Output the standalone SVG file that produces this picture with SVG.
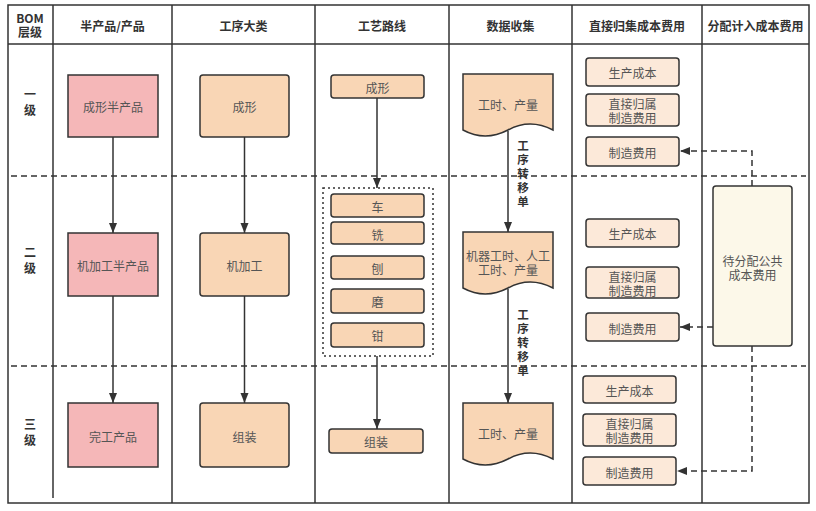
<svg xmlns="http://www.w3.org/2000/svg" width="816" height="511" viewBox="0 0 816 511">
<style>
text{font-family:"Noto Sans CJK SC","Noto Sans",sans-serif;text-anchor:middle;dominant-baseline:central}
.h{font-size:12px;font-weight:bold;fill:#333}
.t{font-size:12px;fill:#555}
.v{font-size:11.5px;font-weight:bold;fill:#333;writing-mode:vertical-rl;letter-spacing:2.5px}
.grid{stroke:#333;stroke-width:1.5;fill:none}
.dash{stroke:#333;stroke-width:1.5;stroke-dasharray:6 4;fill:none}
.prod{fill:#F5B7B8;stroke:#333;stroke-width:1.5}
.proc{fill:#F9D6B5;stroke:#333;stroke-width:1.5}
.cost{fill:#FCE9D9;stroke:#333;stroke-width:1.5}
.pool{fill:#FCF8E9;stroke:#333;stroke-width:1.5}
.ln{stroke:#333;stroke-width:1.5;fill:none}
</style>
<defs>
<marker id="ah" markerWidth="10" markerHeight="10" refX="10" refY="5" orient="auto" markerUnits="userSpaceOnUse">
<path d="M0,1 L10,5 L0,9 z" fill="#333"/>
</marker>
</defs>
<rect width="816" height="511" fill="#fff"/>
<g id="grid">
<rect class="grid" x="8" y="5" width="801" height="498"/>
<line class="grid" x1="8" y1="44" x2="809" y2="44"/>
<line class="grid" x1="53" y1="5" x2="53" y2="498"/>
<line class="grid" x1="172" y1="5" x2="172" y2="503"/>
<line class="grid" x1="315" y1="5" x2="315" y2="503"/>
<line class="grid" x1="449" y1="5" x2="449" y2="503"/>
<line class="grid" x1="572" y1="5" x2="572" y2="503"/>
<line class="grid" x1="702" y1="5" x2="702" y2="503"/>
<line class="dash" x1="11" y1="176" x2="806" y2="176"/>
<line class="dash" x1="11" y1="366" x2="806" y2="366"/>
</g>
<g id="headers">
<text class="h" x="30" y="17">BOM<tspan x="30" dy="14">层级</tspan></text>
<text class="h" x="112.5" y="25">半产品/产品</text>
<text class="h" x="243.5" y="25">工序大类</text>
<text class="h" x="382" y="25">工艺路线</text>
<text class="h" x="510.5" y="25">数据收集</text>
<text class="h" x="637" y="25">直接归集成本费用</text>
<text class="h" x="755.5" y="25">分配计入成本费用</text>
<text class="h" x="30" y="93">一<tspan x="30" dy="16">级</tspan></text>
<text class="h" x="30" y="251">二<tspan x="30" dy="16">级</tspan></text>
<text class="h" x="30" y="423">三<tspan x="30" dy="16">级</tspan></text>
</g>
<g id="connectors">
<line class="ln" x1="113" y1="137" x2="113" y2="233" marker-end="url(#ah)"/>
<line class="ln" x1="113" y1="296" x2="113" y2="403" marker-end="url(#ah)"/>
<line class="ln" x1="244.5" y1="137" x2="244.5" y2="233" marker-end="url(#ah)"/>
<line class="ln" x1="244.5" y1="296" x2="244.5" y2="403" marker-end="url(#ah)"/>
<line class="ln" x1="377" y1="98" x2="377" y2="188" marker-end="url(#ah)"/>
<line class="ln" x1="377" y1="356" x2="377" y2="429" marker-end="url(#ah)"/>
<line class="ln" x1="508" y1="131" x2="508" y2="232" marker-end="url(#ah)"/>
<line class="ln" x1="508" y1="289" x2="508" y2="403" marker-end="url(#ah)"/>
<path class="dash" d="M752,186 V151 H680" marker-end="url(#ah)"/>
<path class="dash" d="M713,327 H680" marker-end="url(#ah)"/>
<path class="dash" d="M752,346 V471 H677" marker-end="url(#ah)"/>
<text class="v" x="523" y="175">工序转移单</text>
<text class="v" x="523" y="344">工序转移单</text>
</g>
<g id="n-prod1"><rect class="prod" x="68" y="75" width="90" height="62"/><text class="t" x="113" y="106">成形半产品</text></g>
<g id="n-prod2"><rect class="prod" x="68" y="233" width="90" height="63"/><text class="t" x="113" y="265">机加工半产品</text></g>
<g id="n-prod3"><rect class="prod" x="68" y="403" width="90" height="64"/><text class="t" x="113" y="436">完工产品</text></g>
<g id="n-cat1"><rect class="proc" x="200" y="75" width="89" height="62" rx="3"/><text class="t" x="244.5" y="106">成形</text></g>
<g id="n-cat2"><rect class="proc" x="200" y="233" width="89" height="63" rx="3"/><text class="t" x="244.5" y="265">机加工</text></g>
<g id="n-cat3"><rect class="proc" x="200" y="403" width="89" height="64" rx="3"/><text class="t" x="244.5" y="436">组装</text></g>
<g id="n-route1"><rect class="proc" x="331" y="75" width="93" height="23" rx="3"/><text class="t" x="377.5" y="87">成形</text></g>
<g id="n-routegroup"><rect x="323" y="188" width="110" height="168" fill="none" stroke="#333" stroke-width="1.5" stroke-dasharray="2 3"/></g>
<g id="n-che"><rect class="proc" x="331" y="194" width="93" height="23" rx="3"/><text class="t" x="377.5" y="206">车</text></g>
<g id="n-xi"><rect class="proc" x="331" y="222" width="93" height="22" rx="3"/><text class="t" x="377.5" y="234">铣</text></g>
<g id="n-bao"><rect class="proc" x="331" y="256" width="93" height="23" rx="3"/><text class="t" x="377.5" y="268">刨</text></g>
<g id="n-mo"><rect class="proc" x="331" y="289" width="93" height="24" rx="3"/><text class="t" x="377.5" y="301">磨</text></g>
<g id="n-qian"><rect class="proc" x="331" y="323" width="93" height="24" rx="3"/><text class="t" x="377.5" y="335">钳</text></g>
<g id="n-route3"><rect class="proc" x="329" y="429" width="94" height="24" rx="3"/><text class="t" x="376" y="441">组装</text></g>
<g id="n-data1"><path class="proc" d="M463,74 H553 V130 Q530,118 508,130 Q485,142 463,130 Z"/><text class="t" x="508" y="104">工时、产量</text></g>
<g id="n-data2"><path class="proc" d="M463,232 H553 V288 Q530,276 508,288 Q485,300 463,288 Z"/><text class="t" x="508" y="255">机器工时、人工<tspan x="508" dy="14">工时、产量</tspan></text></g>
<g id="n-data3"><path class="proc" d="M463,403 H553 V459 Q530,447 508,459 Q485,471 463,459 Z"/><text class="t" x="508" y="433">工时、产量</text></g>
<g id="n-c1a"><rect class="cost" x="586" y="58" width="93" height="28" rx="3"/><text class="t" x="632.5" y="72">生产成本</text></g>
<g id="n-c1b"><rect class="cost" x="586" y="94" width="93" height="32" rx="3"/><text class="t" x="632.5" y="103">直接归属<tspan x="632.5" dy="14">制造费用</tspan></text></g>
<g id="n-c1c"><rect class="cost" x="586" y="137" width="93" height="29" rx="3"/><text class="t" x="632.5" y="152">制造费用</text></g>
<g id="n-c2a"><rect class="cost" x="586" y="219" width="93" height="28" rx="3"/><text class="t" x="632.5" y="233">生产成本</text></g>
<g id="n-c2b"><rect class="cost" x="586" y="267" width="93" height="31" rx="3"/><text class="t" x="632.5" y="276">直接归属<tspan x="632.5" dy="14">制造费用</tspan></text></g>
<g id="n-c2c"><rect class="cost" x="586" y="313" width="93" height="28" rx="3"/><text class="t" x="632.5" y="328">制造费用</text></g>
<g id="n-c3a"><rect class="cost" x="583" y="376" width="93" height="27" rx="3"/><text class="t" x="629.5" y="390">生产成本</text></g>
<g id="n-c3b"><rect class="cost" x="583" y="414" width="93" height="32" rx="3"/><text class="t" x="629.5" y="423">直接归属<tspan x="629.5" dy="14">制造费用</tspan></text></g>
<g id="n-c3c"><rect class="cost" x="583" y="457" width="93" height="28" rx="3"/><text class="t" x="629.5" y="472">制造费用</text></g>
<g id="n-pool"><rect class="pool" x="713" y="186" width="79" height="160" rx="3"/><text class="t" x="752.5" y="260">待分配公共<tspan x="752.5" dy="14">成本费用</tspan></text></g>
</svg>
